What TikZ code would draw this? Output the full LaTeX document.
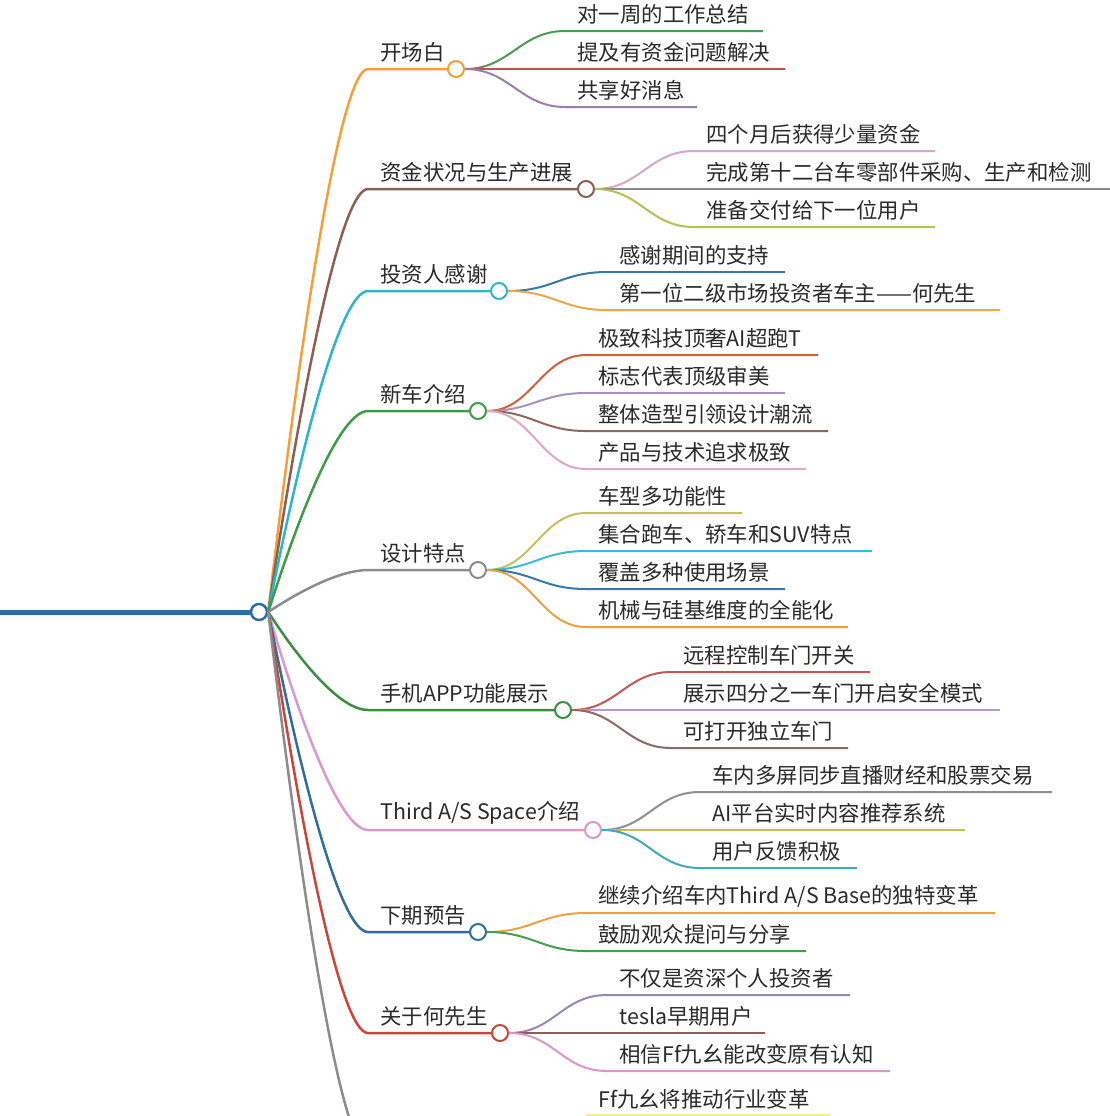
\documentclass[tikz,border=0pt]{standalone}
\usepackage{fontspec}
\setmainfont{Noto Sans CJK SC}
\definecolor{rootblue}{HTML}{2E6CA4}
\definecolor{cOrange}{HTML}{F2A03A}
\definecolor{cBrown}{HTML}{8C5F55}
\definecolor{cCyan}{HTML}{2DB5CA}
\definecolor{cGreen}{HTML}{3E9B47}
\definecolor{cGray}{HTML}{8C8C8C}
\definecolor{cAppGreen}{HTML}{3A8F3F}
\definecolor{cPink}{HTML}{D99ACB}
\definecolor{cNavy}{HTML}{2F6E9E}
\definecolor{cRed}{HTML}{C9473A}
\definecolor{sGreen}{HTML}{4A9A50}
\definecolor{sRed}{HTML}{D04848}
\definecolor{sPurple}{HTML}{9C7DB0}
\definecolor{sMauve}{HTML}{D4A8C8}
\definecolor{sGray}{HTML}{8A8A8A}
\definecolor{sYG}{HTML}{B8C050}
\definecolor{sBlue}{HTML}{3A78A0}
\definecolor{sOrange}{HTML}{E8A850}
\definecolor{sRedOr}{HTML}{D0603C}
\definecolor{sLilac}{HTML}{A890C0}
\definecolor{sBrown}{HTML}{8A6A60}
\definecolor{sPink}{HTML}{E0A8C8}
\definecolor{sYG2}{HTML}{C8C060}
\definecolor{sCyan}{HTML}{38BCD0}
\definecolor{sBlue2}{HTML}{3878A8}
\definecolor{sOrange2}{HTML}{F0A040}
\definecolor{sRed2}{HTML}{C05858}
\definecolor{sLilac2}{HTML}{B898C8}
\definecolor{sBrown2}{HTML}{8A6A66}
\definecolor{sGray2}{HTML}{909090}
\definecolor{sYG3}{HTML}{C0C050}
\definecolor{sTeal}{HTML}{40AAB8}
\definecolor{sPurple2}{HTML}{9888B8}
\definecolor{sBrRed}{HTML}{985858}
\definecolor{sPink2}{HTML}{D898C8}
\definecolor{sYellow}{HTML}{F0EC9A}
\definecolor{txtcol}{HTML}{2A2A2A}
\newcommand\topicbr[5]{%
  \coordinate (#1a) at (368,#4);
  \draw[tline,#2] (root.east) .. controls (300,{(612+#4)/2}) and (340,#4) .. (#1a) -- (#3-8,#4);
  \node[tdot=#2] (#1) at (#3,#4) {};
  \node[lbl] (#1l) at (380,#4-17) {#5};}
\newcommand\subbr[7]{%
  \coordinate (#1a) at (#4-12,#5);
  \coordinate (#1b) at (#6,#5);
  \draw[subline,#3] (#2.east) .. controls +(45,0) and +(-45,0) .. (#1a) -- (#1b);
  \node[lbl] (#1) at (#4,#5-17) {#7};}
\begin{document}
\begin{tikzpicture}[x=0.5pt,y=-0.5pt,
  tline/.style={line width=1.25pt},
  subline/.style={line width=1pt},
  tdot/.style={circle,draw=#1,fill=white,line width=1pt,minimum size=8pt,inner sep=0pt},
  lbl/.style={anchor=west,inner sep=0pt,text=txtcol,font=\fontsize{10.7pt}{12pt}\selectfont}]
\useasboundingbox (0,0) rectangle (1110,1116);
\clip (0,0) rectangle (1110,1116);
\fill[white] (0,0) rectangle (1110,1116);
% root
\coordinate (rootL) at (0,612);
\node[circle,draw=rootblue,fill=white,line width=1.25pt,minimum size=8pt,inner sep=0pt] (root) at (259,612) {};
\draw[rootblue,line width=2.5pt] (rootL) -- (root.west);
% topics
\topicbr{t1}{cOrange}{456}{69}{开场白}
\topicbr{t2}{cBrown}{586}{189}{资金状况与生产进展}
\topicbr{t3}{cCyan}{499}{291}{投资人感谢}
\topicbr{t4}{cGreen}{478}{411}{新车介绍}
\topicbr{t5}{cGray}{478}{570}{设计特点}
\topicbr{t6}{cAppGreen}{563}{710}{手机APP功能展示}
\topicbr{t7}{cPink}{593}{830}{Third A/S Space介绍}
\topicbr{t8}{cNavy}{478}{932}{下期预告}
\topicbr{t9}{cRed}{500}{1033}{关于何先生}
% off-canvas gray topic
\coordinate (t10a) at (368,1150);
\draw[tline,cGray] (root.east) .. controls (300,881) and (340,1150) .. (t10a);
% subtopics
\subbr{s11}{t1}{sGreen}{577}{31}{763}{对一周的工作总结}
\subbr{s12}{t1}{sRed}{577}{69}{785}{提及有资金问题解决}
\subbr{s13}{t1}{sPurple}{577}{107}{697}{共享好消息}
\subbr{s21}{t2}{sMauve}{706}{151}{935}{四个月后获得少量资金}
\subbr{s22}{t2}{sGray}{706}{189}{1112}{完成第十二台车零部件采购、生产和检测}
\subbr{s23}{t2}{sYG}{706}{227}{935}{准备交付给下一位用户}
\subbr{s31}{t3}{sBlue}{619}{272}{785}{感谢期间的支持}
\subbr{s32}{t3}{sOrange}{619}{310}{1000}{第一位二级市场投资者车主——何先生}
\subbr{s41}{t4}{sRedOr}{598}{355}{818}{极致科技顶奢AI超跑T}
\subbr{s42}{t4}{sLilac}{598}{393}{785}{标志代表顶级审美}
\subbr{s43}{t4}{sBrown}{598}{431}{828}{整体造型引领设计潮流}
\subbr{s44}{t4}{sPink}{598}{469}{806}{产品与技术追求极致}
\subbr{s51}{t5}{sYG2}{598}{513}{742}{车型多功能性}
\subbr{s52}{t5}{sCyan}{598}{551}{872}{集合跑车、轿车和SUV特点}
\subbr{s53}{t5}{sBlue2}{598}{589}{785}{覆盖多种使用场景}
\subbr{s54}{t5}{sOrange2}{598}{627}{848}{机械与硅基维度的全能化}
\subbr{s61}{t6}{sRed2}{683}{672}{870}{远程控制车门开关}
\subbr{s62}{t6}{sLilac2}{683}{710}{1000}{展示四分之一车门开启安全模式}
\subbr{s63}{t6}{sBrown2}{683}{748}{848}{可打开独立车门}
\subbr{s71}{t7}{sGray2}{712}{792}{1052}{车内多屏同步直播财经和股票交易}
\subbr{s72}{t7}{sYG3}{712}{830}{965}{AI平台实时内容推荐系统}
\subbr{s73}{t7}{sTeal}{712}{868}{857}{用户反馈积极}
\subbr{s81}{t8}{sOrange2}{598}{913}{995}{继续介绍车内Third A/S Base的独特变革}
\subbr{s82}{t8}{sGreen}{598}{951}{806}{鼓励观众提问与分享}
\subbr{s91}{t9}{sPurple2}{619}{995}{850}{不仅是资深个人投资者}
\subbr{s92}{t9}{sBrRed}{619}{1033}{765}{tesla早期用户}
\subbr{s93}{t9}{sPink2}{619}{1071}{890}{相信Ff九幺能改变原有认知}
% bottom partially visible subtopic
\coordinate (s101a) at (586,1116);
\coordinate (s101b) at (830,1116);
\draw[sYellow,line width=2pt] (s101a) -- (s101b);
\node[lbl] (s101) at (598,1099) {Ff九幺将推动行业变革};
\end{tikzpicture}
\end{document}
